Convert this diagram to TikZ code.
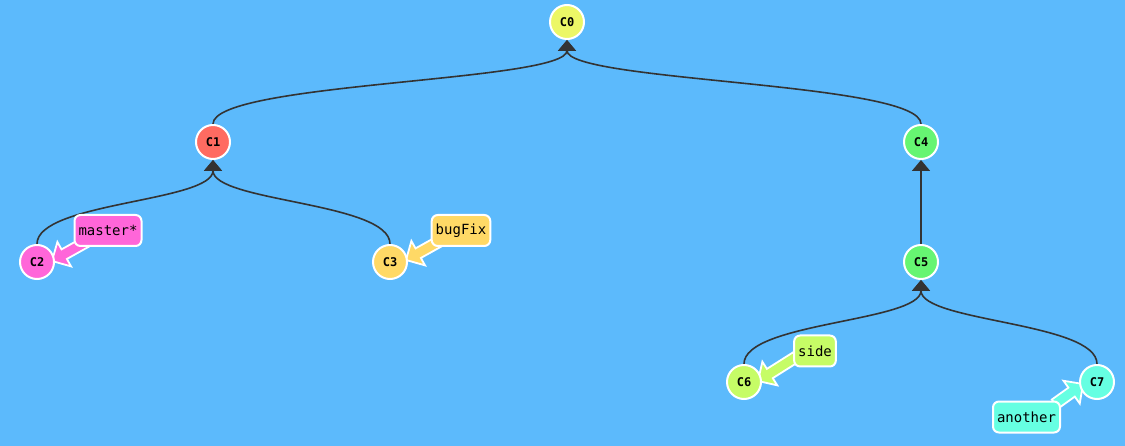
\documentclass[tikz,border=0pt]{standalone}
\usepackage{fontspec}
\newfontfamily\codefont{DejaVu Sans Mono}
\newfontfamily\codebold{DejaVu Sans Mono Bold}
\usetikzlibrary{arrows.meta,calc}
\pgfdeclarelayer{bglayer}
\pgfdeclarelayer{behind}
\pgfsetlayers{bglayer,behind,main}
\definecolor{bgblue}{HTML}{5CBAFC}
\definecolor{edgegray}{HTML}{333333}
\definecolor{czero}{HTML}{ECF766}
\definecolor{cone}{HTML}{FF6B61}
\definecolor{cpink}{HTML}{FF66D9}
\definecolor{cyel}{HTML}{FFD966}
\definecolor{cgreen}{HTML}{66F572}
\definecolor{clime}{HTML}{C6FC66}
\definecolor{ccyan}{HTML}{66FFE2}
\newcommand\fatarrow[3]{%
  \coordinate (fah) at ($(#2)!14pt!(#1)$);
  \filldraw[fill=#3,draw=white,line width=1.8pt,line join=miter]
    ($(#1)!5.5pt!90:(#2)$) -- ($(fah)!5.5pt!90:(#2)$) -- ($(fah)!14pt!90:(#2)$)
    -- (#2) -- ($(fah)!14pt!-90:(#2)$) -- ($(fah)!5.5pt!-90:(#2)$)
    -- ($(#1)!5.5pt!-90:(#2)$) -- cycle;}
\newcommand\parentlink[2]{%
  \coordinate (plm) at ($(#1.north)!0.5!(#2.south)$);
  \draw[parent] (#1.north) .. controls (#1.north |- plm) and (#2.south |- plm) .. (#2.south);}
\begin{document}
\begin{tikzpicture}[x=1pt,y=-1pt,
  commit/.style={circle,draw=white,line width=2pt,minimum size=34pt,inner sep=0pt,
    font=\codebold\fontsize{12}{14}\selectfont,text=black},
  branch/.style={rounded corners=6pt,draw=white,line width=2pt,minimum height=31pt,
    inner xsep=4pt,inner ysep=0pt,font=\codefont\fontsize{14}{16}\selectfont,text=black},
  parent/.style={draw=edgegray,line width=1.6pt,-{Triangle[width=18pt,length=11pt]}}]
\begin{pgfonlayer}{bglayer}
  \fill[bgblue] (0,0) rectangle (1125,446);
\end{pgfonlayer}
\useasboundingbox (0,0) rectangle (1125,446);
% commits
\node[commit,fill=czero]  (C0) at (567,22)  {C0};
\node[commit,fill=cone]   (C1) at (213,142) {C1};
\node[commit,fill=cgreen] (C4) at (921,142) {C4};
\node[commit,fill=cpink]  (C2) at (37,262)  {C2};
\node[commit,fill=cyel]   (C3) at (390,262) {C3};
\node[commit,fill=cgreen] (C5) at (921,262) {C5};
\node[commit,fill=clime]  (C6) at (744,382) {C6};
\node[commit,fill=ccyan]  (C7) at (1097,382) {C7};
% branch labels
\node[branch,fill=cpink] (bmaster)  at (108,230.5) {master*};
\node[branch,fill=cyel]  (bbugfix)  at (461,230.5) {bugFix};
\node[branch,fill=clime] (bside)    at (815,351) {side};
\node[branch,fill=ccyan] (banother) at (1026.5,417) {another};
% arrow end points
\coordinate (tm) at ($(C2)+(15,-1)$);
\coordinate (tb) at ($(C3)+(16,-2)$);
\coordinate (ts) at ($(C6)+(14,-1)$);
\coordinate (ta) at ($(C7)+(-14,2)$);
\coordinate (sm) at ($(tm)+(34,-19)$);
\coordinate (sb) at ($(tb)+(34,-19)$);
\coordinate (ss) at ($(ts)+(38,-24)$);
\coordinate (sa) at ($(ta)+(-28,20)$);
\begin{pgfonlayer}{behind}
  \parentlink{C1}{C0}
  \parentlink{C4}{C0}
  \parentlink{C2}{C1}
  \parentlink{C3}{C1}
  \parentlink{C5}{C4}
  \parentlink{C6}{C5}
  \parentlink{C7}{C5}
  \fatarrow{sm}{tm}{cpink}
  \fatarrow{sb}{tb}{cyel}
  \fatarrow{ss}{ts}{clime}
  \fatarrow{sa}{ta}{ccyan}
\end{pgfonlayer}
\end{tikzpicture}
\end{document}
